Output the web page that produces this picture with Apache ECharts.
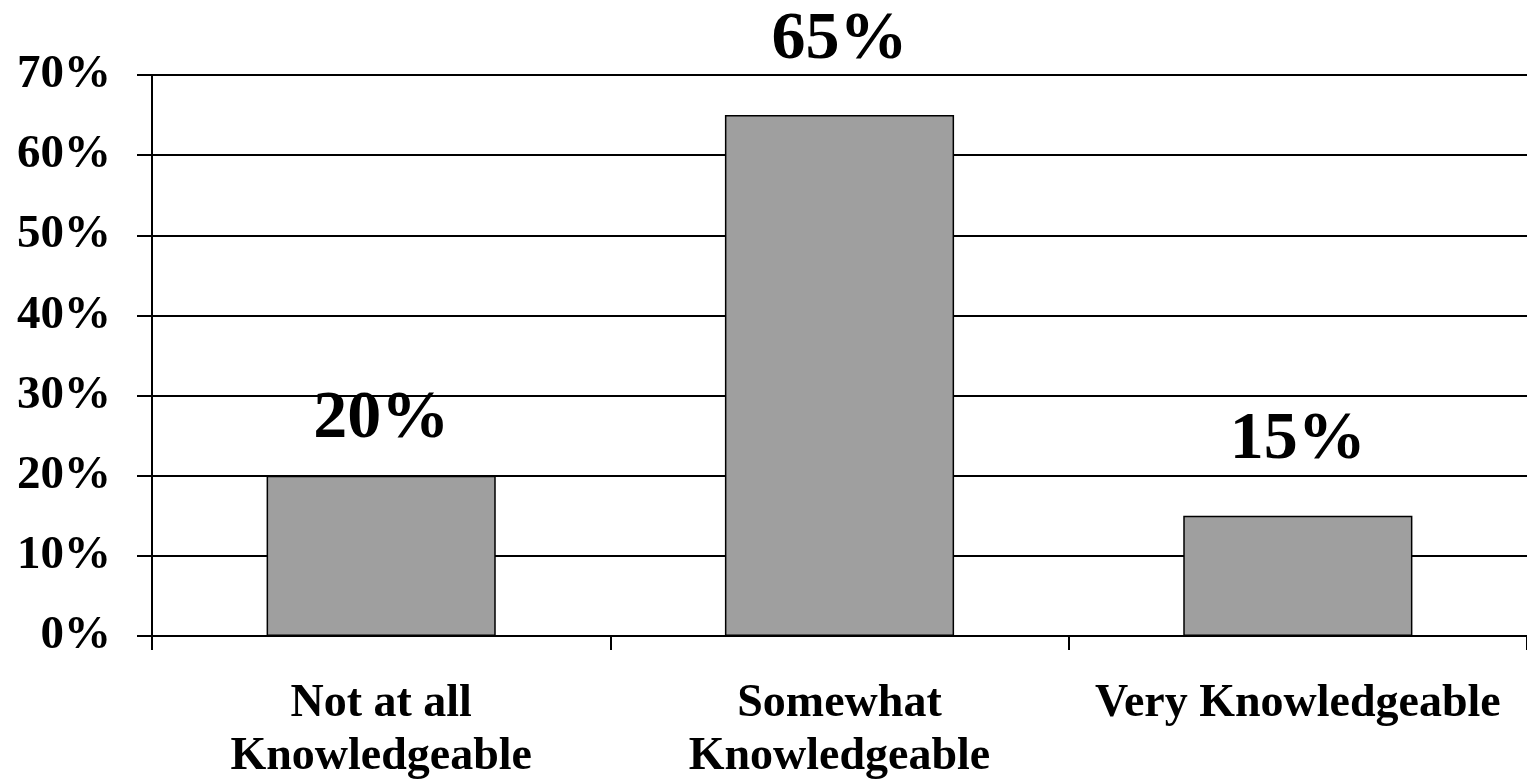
<!DOCTYPE html>
<html>
<head>
<meta charset="utf-8">
<script src="https://cdn.jsdelivr.net/npm/echarts@6/dist/echarts.min.js"></script>
<style>
html,body{margin:0;padding:0;background:#fff;}
#chart{width:1527px;height:784px;}
</style>
</head>
<body>
<div id="chart"></div>
<script>
const categories = ['Not at all\nKnowledgeable', 'Somewhat\nKnowledgeable', 'Very Knowledgeable'];
const values = [20, 65, 15];
const labelDistances = [22, 41, 41];
const yTicks = { min: 0, max: 70, interval: 10 };

const FONT = '"Liberation Serif", "Times New Roman", serif';
const chart = echarts.init(document.getElementById('chart'));
chart.setOption({
  animation: false,
  backgroundColor: '#ffffff',
  grid: { left: 152, right: 0, top: 75, bottom: 144, containLabel: false },
  xAxis: {
    type: 'category',
    data: categories,
    boundaryGap: true,
    axisLine: { show: true, lineStyle: { color: '#000', width: 2 } },
    axisTick: { show: true, alignWithLabel: false, length: 14, lineStyle: { color: '#000', width: 2 } },
    axisLabel: {
      interval: 0,
      margin: 42,
      color: '#000',
      fontFamily: FONT,
      fontWeight: 'bold',
      fontSize: 46,
      lineHeight: 53,
      verticalAlign: 'top'
    },
    splitLine: { show: false }
  },
  yAxis: {
    type: 'value',
    min: yTicks.min,
    max: yTicks.max,
    interval: yTicks.interval,
    axisLine: { show: true, lineStyle: { color: '#000', width: 2 } },
    axisTick: { show: true, length: 15, lineStyle: { color: '#000', width: 2 } },
    axisLabel: {
      margin: 41,
      color: '#000',
      fontFamily: FONT,
      fontWeight: 'bold',
      fontSize: 47,
      formatter: '{value}%'
    },
    splitLine: { show: true, lineStyle: { color: '#000', width: 2 } }
  },
  series: [{
    type: 'bar',
    barWidth: '50%',
    data: values.map((v, i) => ({
      value: v,
      label: { distance: labelDistances[i] }
    })),
    itemStyle: { color: '#9f9f9f', borderColor: '#000', borderWidth: 1.5 },
    label: {
      show: true,
      position: 'top',
      color: '#000',
      fontFamily: FONT,
      fontWeight: 'bold',
      fontSize: 68,
      formatter: '{c}%'
    }
  }]
});
</script>
</body>
</html>
